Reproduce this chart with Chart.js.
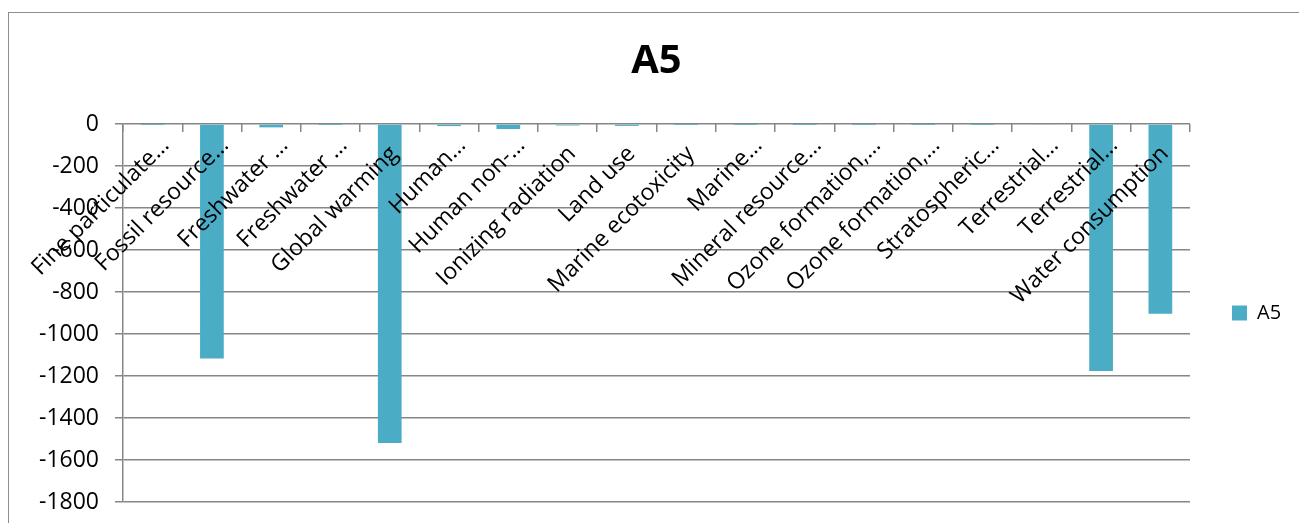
<!DOCTYPE html>
<html>
<head>
<meta charset="utf-8">
<script src="https://cdn.jsdelivr.net/npm/chart.js@4/dist/chart.umd.min.js"></script>
<style>
    html, body { margin: 0; padding: 0; background: #fff; overflow: hidden; }
    .frame {
        position: absolute;
        left: 8px;
        top: 12px;
        width: 1400px;
        height: 600px;
        border-left: 1px solid #8e8e8e;
        border-top: 1px solid #8e8e8e;
    }
    .chart-box {
        position: absolute;
        left: 0;
        top: 0;
        width: 1299px;
        height: 523px;
    }
</style>
</head>
<body>
<div class="frame"></div>
<div class="chart-box"><canvas id="chart"></canvas></div>
<script>
const categories = [
    'Fine particulate matter formation',
    'Fossil resource scarcity',
    'Freshwater ecotoxicity',
    'Freshwater eutrophication',
    'Global warming',
    'Human carcinogenic toxicity',
    'Human non-carcinogenic toxicity',
    'Ionizing radiation',
    'Land use',
    'Marine ecotoxicity',
    'Marine eutrophication',
    'Mineral resource scarcity',
    'Ozone formation, Human health',
    'Ozone formation, Terrestrial ecosystems',
    'Stratospheric ozone depletion',
    'Terrestrial acidification',
    'Terrestrial ecotoxicity',
    'Water consumption'
];

// shortened axis labels, as they appear under the zero line
const tickLabels = [
    'Fine particulate…',
    'Fossil resource…',
    'Freshwater …',
    'Freshwater …',
    'Global warming',
    'Human…',
    'Human non-…',
    'Ionizing radiation',
    'Land use',
    'Marine ecotoxicity',
    'Marine…',
    'Mineral resource…',
    'Ozone formation,…',
    'Ozone formation,…',
    'Stratospheric…',
    'Terrestrial…',
    'Terrestrial…',
    'Water consumption'
];

const a5Values = [-0.2, -1117, -16, -0.1, -1519, -10, -24, -7, -9, -0.1, -0.1, -0.1, -0.2, -0.2, -0.1, -3, -1176, -903];

const yTicks = [0, -200, -400, -600, -800, -1000, -1200, -1400, -1600, -1800];

const gridColor = '#868686';
const barColor = '#4bacc6';
const fontFamily = '"Open Sans", "Noto Sans", sans-serif';

// fixed legend column on the right
const legendWidth = {
    id: 'legendWidth',
    beforeInit(chart) {
        const fitValue = chart.legend.fit;
        chart.legend.fit = function fit() {
            fitValue.bind(chart.legend)();
            this.width = 109;
        };
    }
};

// full names sit a little lower than the cut ones
function axisLabel(index) {
    const label = tickLabels[index];
    return label.endsWith('…') ? label : label + '  ';
}

new Chart(document.getElementById('chart'), {
    type: 'bar',
    data: {
        labels: categories,
        datasets: [{
            label: 'A5',
            data: a5Values,
            backgroundColor: barColor,
            borderWidth: 0,
            categoryPercentage: 0.4,
            barPercentage: 1.0
        }]
    },
    options: {
        responsive: true,
        maintainAspectRatio: false,
        animation: false,
        layout: {
            padding: { left: 0, right: 0, top: 0, bottom: 21 }
        },
        scales: {
            x: {
                position: { y: 0 },
                grid: {
                    display: true,
                    drawOnChartArea: false,
                    drawTicks: true,
                    tickLength: 8,
                    color: gridColor,
                    lineWidth: 1.5
                },
                border: { display: false },
                ticks: {
                    z: 1,
                    autoSkip: false,
                    minRotation: 45,
                    maxRotation: 45,
                    padding: 0,
                    labelOffset: 13,
                    color: '#000',
                    font: { family: fontFamily, size: 23 },
                    callback: (value, index) => axisLabel(index)
                },
                afterFit(scale) {
                    scale.height = 0;
                    scale.paddingLeft = 0;
                    scale.paddingRight = 0;
                }
            },
            y: {
                min: yTicks[yTicks.length - 1],
                max: yTicks[0],
                afterBuildTicks(scale) {
                    scale.ticks = yTicks.map(v => ({ value: v }));
                },
                grid: {
                    color: gridColor,
                    lineWidth: 1.5,
                    tickLength: 8
                },
                border: { display: true, color: gridColor, width: 1.5 },
                ticks: {
                    padding: 16,
                    color: '#000',
                    font: { family: fontFamily, size: 23 },
                    callback: value => String(value)
                },
                afterFit(scale) {
                    scale.width = 123;
                    scale.paddingTop = 0;
                    scale.paddingBottom = 0;
                }
            }
        },
        plugins: {
            title: {
                display: true,
                text: 'A5',
                fullSize: false,
                color: '#000',
                font: { family: fontFamily, size: 40, weight: 'bold' },
                padding: { top: 38, bottom: 38 }
            },
            legend: {
                position: 'right',
                fullSize: false,
                labels: {
                    boxWidth: 15,
                    boxHeight: 15,
                    padding: 42,
                    color: '#000',
                    font: { family: fontFamily, size: 20 }
                }
            },
            tooltip: { enabled: false }
        }
    },
    plugins: [legendWidth]
});
</script>
</body>
</html>
